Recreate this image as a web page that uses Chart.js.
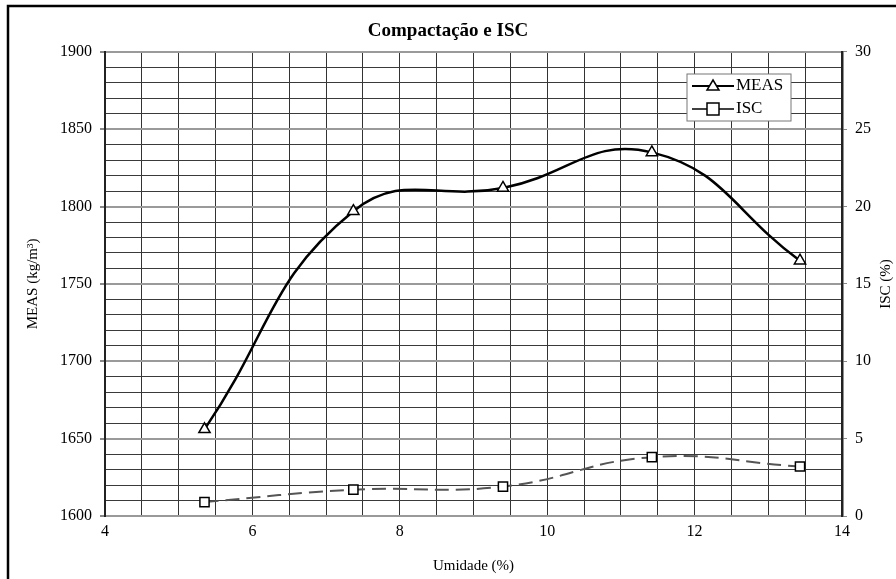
<!DOCTYPE html>
<html>
<head>
<meta charset="utf-8">
<script src="https://cdn.jsdelivr.net/npm/chart.js@4.4.0/dist/chart.umd.min.js"></script>
<style>
  html, body { margin: 0; padding: 0; background: #fff; }
  #wrap { width: 896px; height: 579px; }
</style>
</head>
<body>
<div id="wrap"><canvas id="grafico"></canvas></div>
<script>
const umidade = [5.35, 7.37, 9.40, 11.42, 13.43];
const meas = [1656, 1797, 1812, 1835, 1765];
const isc = [0.9, 1.7, 1.9, 3.8, 3.2];

const serif = "'Liberation Serif', 'DejaVu Serif', serif";

// moldura, legenda e titulo do eixo direito
const extras = {
  id: "extras",
  afterDraw(chart) {
    const c = chart.ctx;
    c.save();
    c.strokeStyle = "#000";
    c.lineWidth = 2.5;
    c.strokeRect(8, 6, 900, 600);

    // legenda
    c.fillStyle = "#fff";
    c.fillRect(687, 74, 104, 47);
    c.strokeStyle = "#777";
    c.lineWidth = 1;
    c.strokeRect(687, 74, 104, 47);

    c.strokeStyle = "#000";
    c.lineWidth = 2;
    c.beginPath(); c.moveTo(692, 86); c.lineTo(734, 86); c.stroke();
    c.lineWidth = 1.5;
    c.beginPath(); c.moveTo(692, 109); c.lineTo(734, 109); c.stroke();
    c.fillStyle = "#fff";
    c.beginPath(); c.moveTo(713, 80); c.lineTo(719, 90); c.lineTo(707, 90); c.closePath();
    c.fill(); c.stroke();
    c.fillRect(707, 103, 12, 12); c.strokeRect(707, 103, 12, 12);

    c.fillStyle = "#000";
    c.font = "17px " + serif;
    c.textBaseline = "middle";
    c.fillText("MEAS", 736, 86);
    c.fillText("ISC", 736, 109);

    // titulo do eixo direito
    c.translate(886, 284);
    c.rotate(-Math.PI / 2);
    c.textAlign = "center";
    c.font = "15px " + serif;
    c.fillText("ISC (%)", 0, 0);
    c.restore();
  }
};

const majorY = v => v % 50 === 0;

new Chart(document.getElementById("grafico"), {
  type: "line",
  data: {
    datasets: [
      {
        label: "MEAS",
        data: umidade.map((x, i) => ({ x: x, y: meas[i] })),
        yAxisID: "y",
        borderColor: "#000",
        borderWidth: 2.5,
        tension: 0.45,
        pointStyle: "triangle",
        pointRadius: 6.5,
        pointBackgroundColor: "#fff",
        pointBorderColor: "#000",
        pointBorderWidth: 1.5,
      },
      {
        label: "ISC",
        data: umidade.map((x, i) => ({ x: x, y: isc[i] })),
        yAxisID: "y2",
        borderColor: "#555",
        borderWidth: 2,
        borderDash: [14, 7],
        tension: 0.45,
        pointStyle: "rect",
        pointRadius: 6.5,
        pointBackgroundColor: "#fff",
        pointBorderColor: "#000",
        pointBorderWidth: 1.5,
      },
    ],
  },
  options: {
    responsive: true,
    maintainAspectRatio: false,
    animation: false,
    layout: { padding: 0 },
    plugins: {
      legend: { display: false },
      tooltip: { enabled: false },
      title: {
        display: true,
        text: "Compactação e ISC",
        color: "#000",
        font: { family: serif, size: 19, weight: "bold" },
        padding: { top: 20, bottom: 9 },
      },
    },
    scales: {
      x: {
        type: "linear",
        min: 4,
        max: 14,
        afterFit(scale) { scale.height = 63; },
        ticks: {
          stepSize: 0.5,
          autoSkip: false,
          maxRotation: 0,
          color: "#000",
          padding: 2,
          font: { family: serif, size: 16 },
          callback: v => (v % 2 === 0 ? v : ""),
        },
        grid: {
          color: "#333",
          lineWidth: 1,
          tickLength: 4,
          tickColor: "rgba(0,0,0,0)",
        },
        border: { color: "#999", width: 2 },
        title: {
          display: true,
          text: "Umidade (%)",
          color: "#000",
          font: { family: serif, size: 15 },
          padding: { top: 10 },
        },
      },
      y: {
        position: "left",
        min: 1600,
        max: 1900,
        afterFit(scale) { scale.width = 105; },
        ticks: {
          stepSize: 10,
          autoSkip: false,
          color: "#000",
          padding: 8,
          font: { family: serif, size: 16 },
          callback: v => (majorY(v) ? v : ""),
        },
        grid: {
          color: ctx => (ctx.tick && majorY(ctx.tick.value) ? "#9a9a9a" : "#3a3a3a"),
          lineWidth: ctx => (ctx.tick && majorY(ctx.tick.value) ? 2 : 1),
          tickLength: 5,
          tickColor: ctx => (ctx.tick && majorY(ctx.tick.value) ? "#888" : "rgba(0,0,0,0)"),
        },
        border: { color: "#222", width: 2 },
        title: {
          display: true,
          text: "MEAS (kg/m³)",
          color: "#000",
          font: { family: serif, size: 15 },
          padding: { top: 24, bottom: 0 },
        },
      },
      y2: {
        position: "right",
        min: 0,
        max: 30,
        afterFit(scale) { scale.width = 54; },
        ticks: {
          stepSize: 1,
          autoSkip: false,
          color: "#000",
          padding: 8,
          font: { family: serif, size: 16 },
          callback: v => (v % 5 === 0 ? v : ""),
        },
        grid: {
          drawOnChartArea: false,
          tickLength: 5,
          tickColor: ctx => (ctx.tick && ctx.tick.value % 5 === 0 ? "#888" : "rgba(0,0,0,0)"),
        },
        border: { color: "#222", width: 2.5 },
      },
    },
  },
  plugins: [extras],
});
</script>
</body>
</html>
